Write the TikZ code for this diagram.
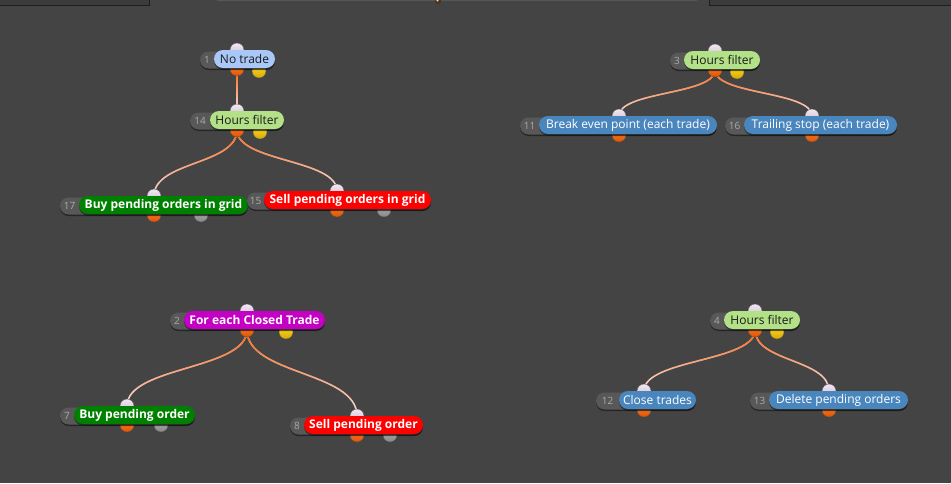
\documentclass[tikz,border=0pt]{standalone}
\usepackage{fontspec}
\setmainfont{Open Sans}
\usetikzlibrary{fadings,shadows}
\definecolor{bgc}{HTML}{444444}
\definecolor{panelc}{HTML}{3B3B3B}
\definecolor{panelb}{HTML}{1E1E1E}
\definecolor{barc}{HTML}{575757}
\definecolor{numpillc}{HTML}{585858}
\definecolor{numtextc}{HTML}{ABABAB}
\definecolor{lbluec}{HTML}{A9C8F8}
\definecolor{lgreenc}{HTML}{B2E187}
\definecolor{sbluec}{HTML}{4A86BE}
\definecolor{dgreenc}{HTML}{008000}
\definecolor{redc}{HTML}{FF0000}
\definecolor{magc}{HTML}{C400C4}
\definecolor{darktext}{HTML}{1A1A1A}
\definecolor{linkA}{HTML}{FF6208}
\definecolor{linkB}{HTML}{F6E8F0}
\definecolor{inA}{HTML}{F2E8F2}
\definecolor{inB}{HTML}{CDB8CF}
\definecolor{outA}{HTML}{FF8A3A}
\definecolor{outB}{HTML}{E05200}
\definecolor{yelA}{HTML}{FFE030}
\definecolor{yelB}{HTML}{D8A800}
\definecolor{grayA}{HTML}{BDBDBD}
\definecolor{grayB}{HTML}{858585}
\tikzfading[name=linkfade, top color=transparent!0, middle color=transparent!10, bottom color=transparent!95]
\pgfdeclarelayer{bgl}
\pgfdeclarelayer{links}
\pgfdeclarelayer{ports}
\pgfsetlayers{bgl,links,ports,main}
\tikzset{
  pillshadow/.style={drop shadow={shadow xshift=0pt, shadow yshift=-1.5pt, opacity=0.45, fill=black}},
  pillbase/.style={rectangle, rounded corners=9pt, minimum height=18pt, inner sep=0pt,
    pillshadow, font=\fontsize{12}{14}\selectfont},
  lightblue/.style={pillbase, fill=lbluec, text=darktext},
  lightgreen/.style={pillbase, fill=lgreenc, text=darktext},
  steelpill/.style={pillbase, fill=sbluec, text=white},
  greenpill/.style={pillbase, fill=dgreenc, text=white, font=\fontsize{12}{14}\selectfont\bfseries},
  redpill/.style={pillbase, fill=redc, text=white, font=\fontsize{12}{14}\selectfont\bfseries},
  magpill/.style={pillbase, fill=magc, text=white, font=\fontsize{12}{14}\selectfont\bfseries},
  numpill/.style={rectangle, rounded corners=8.5pt, minimum height=17pt, inner sep=0pt, fill=numpillc, pillshadow},
  numtext/.style={inner sep=0pt, text=numtextc, font=\fontsize{10}{12}\selectfont},
  portbase/.style={circle, minimum size=14pt, inner sep=0pt, draw=black!70, line width=0.3pt},
  inport/.style={portbase, top color=inA, bottom color=inB},
  outport/.style={portbase, top color=outA, bottom color=outB},
  yelport/.style={portbase, top color=yelA, bottom color=yelB},
  grayport/.style={portbase, top color=grayA, bottom color=grayB},
  linkbase/.style={line width=1.5pt, line cap=round, linkB},
  linktop/.style={line width=1.5pt, line cap=round, linkA, path fading=linkfade},
}
\newcommand\fxnode[8]{%
  \pgfmathsetmacro\fxw{#5-#4}%
  \pgfmathsetmacro\fxc{(#4+#5)/2}%
  \pgfmathsetmacro\fxnw{#5-#3}%
  \pgfmathsetmacro\fxnc{(#3+#5)/2}%
  \pgfmathsetmacro\fxnt{(#3+#4)/2}%
  \node[numpill, minimum width=\fxnw pt] (#1-pill) at (\fxnc,#6+1) {};
  \node[numtext] (#1-num) at (\fxnt,#6+0.5) {#2};
  \node[#7, minimum width=\fxw pt] (#1) at (\fxc,#6) {#8};
}
\newcommand\fxport[4]{%
  \begin{pgfonlayer}{ports}
  \node[#2] (#1) at (#3,#4) {};
  \end{pgfonlayer}}
\newcommand\gradlink[3]{%
  \begin{pgfonlayer}{links}
  \draw[linkbase] (#1.center) .. controls +(0,#3) and +(0,-#3) .. (#2.center);
  \draw[linktop] (#1.center) .. controls +(0,#3) and +(0,-#3) .. (#2.center);
  \end{pgfonlayer}}
\begin{document}
\begin{tikzpicture}[x=1pt,y=-1pt]
\useasboundingbox (0,0) rectangle (951,483);
\begin{pgfonlayer}{bgl}
\fill[bgc] (0,0) rectangle (951,483);
% top bar
\fill[panelc] (0,0) rectangle (149.5,5.5);
\draw[panelb, line width=1pt] (149.5,0) -- (149.5,5.5) -- (0,5.5);
\fill[barc] (217,0) rectangle (697,1.3);
\fill[panelc] (709,0) rectangle (951,5.5);
\draw[panelb, line width=1pt] (709,0) -- (709,5.5) -- (951,5.5);
\fill[black!60!brown] (438,1) circle (3);
\fill[white!70!brown] (437.5,0.5) circle (1.2);
\end{pgfonlayer}

% ports
\fxport{n1-in}{inport}{237}{50}
\fxport{n1-out}{outport}{237}{69}
\fxport{n1-y}{yelport}{259}{71}
\fxport{n14-in}{inport}{237}{111}
\fxport{n14-out}{outport}{237}{130}
\fxport{n14-y}{yelport}{260}{132}
\fxport{n17-in}{inport}{154}{196}
\fxport{n17-out}{outport}{154}{215}
\fxport{n17-g}{grayport}{201}{215}
\fxport{n15-in}{inport}{337}{191}
\fxport{n15-out}{outport}{337}{210}
\fxport{n15-g}{grayport}{384}{210}
\fxport{n3-in}{inport}{715}{51}
\fxport{n3-out}{outport}{715}{70}
\fxport{n3-y}{yelport}{737}{72}
\fxport{n11-in}{inport}{619}{116}
\fxport{n11-out}{outport}{619}{135}
\fxport{n16-in}{inport}{812}{116}
\fxport{n16-out}{outport}{812}{135}
\fxport{n2-in}{inport}{247}{311}
\fxport{n2-out}{outport}{247}{330}
\fxport{n2-y}{yelport}{286}{332}
\fxport{n7-in}{inport}{127}{406}
\fxport{n7-out}{outport}{127}{425}
\fxport{n7-g}{grayport}{161}{425}
\fxport{n8-in}{inport}{357}{416}
\fxport{n8-out}{outport}{357}{435}
\fxport{n8-g}{grayport}{390}{435}
\fxport{n4-in}{inport}{755}{311}
\fxport{n4-out}{outport}{755}{330}
\fxport{n4-y}{yelport}{777}{332}
\fxport{n12-in}{inport}{644}{391}
\fxport{n12-out}{outport}{644}{410}
\fxport{n13-in}{inport}{829}{391}
\fxport{n13-out}{outport}{829}{410}

% links
\gradlink{n1-out}{n14-in}{22}
\gradlink{n14-out}{n17-in}{35}
\gradlink{n14-out}{n15-in}{32}
\gradlink{n3-out}{n11-in}{25}
\gradlink{n3-out}{n16-in}{25}
\gradlink{n2-out}{n7-in}{40}
\gradlink{n2-out}{n8-in}{45}
\gradlink{n4-out}{n12-in}{32}
\gradlink{n4-out}{n13-in}{32}

% nodes
\fxnode{n1}{1}{200}{214}{275}{59}{lightblue}{No trade}
\fxnode{n14}{14}{190}{210}{284}{120}{lightgreen}{Hours filter}
\fxnode{n17}{17}{60}{79}{248}{205}{greenpill}{Buy pending orders in grid}
\fxnode{n15}{15}{247}{264}{431}{200}{redpill}{Sell pending orders in grid}
\fxnode{n3}{3}{670}{684}{760}{60}{lightgreen}{Hours filter}
\fxnode{n11}{11}{520}{539}{717}{125}{steelpill}{Break even point (each trade)}
\fxnode{n16}{16}{725}{744}{897}{125}{steelpill}{Trailing stop (each trade)}
\fxnode{n2}{2}{170}{184}{325}{320}{magpill}{For each Closed Trade}
\fxnode{n7}{7}{60}{74}{195}{415}{greenpill}{Buy pending order}
\fxnode{n8}{8}{290}{304}{423}{425}{redpill}{Sell pending order}
\fxnode{n4}{4}{710}{724}{800}{320}{lightgreen}{Hours filter}
\fxnode{n12}{12}{596}{619}{696}{400}{steelpill}{Close trades}
\fxnode{n13}{13}{750}{769}{908}{400}{steelpill}{Delete pending orders}
\end{tikzpicture}
\end{document}
